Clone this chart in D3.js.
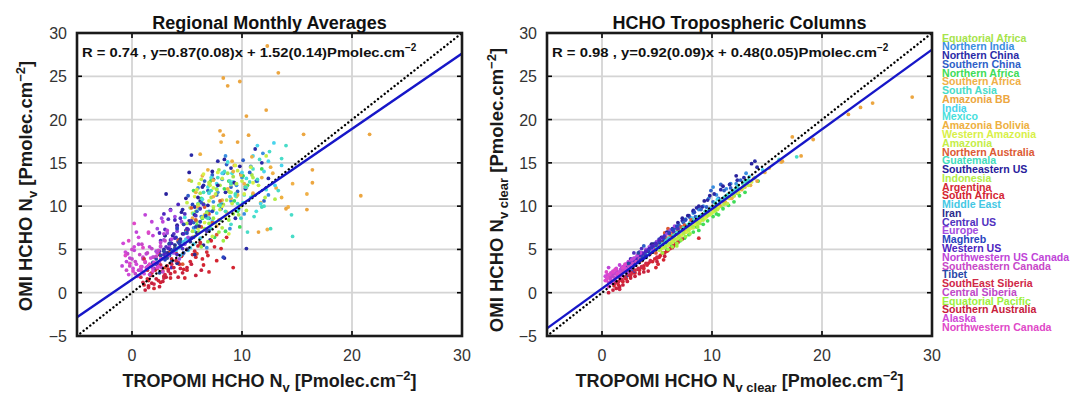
<!DOCTYPE html>
<html><head><meta charset="utf-8">
<script src="https://cdn.jsdelivr.net/npm/d3@7"></script>
<style>body{margin:0;background:#fff}svg{display:block}text{font-family:"Liberation Sans",Arial,sans-serif}</style>
</head><body><svg id="c" width="1073" height="395"></svg>
<script>
const regions = ["Equatorial Africa","Northern India","Northern China","Southern China","Northern Africa","Southern Africa","South Asia","Amazonia BB","India","Mexico","Amazonia Bolivia","Western Amazonia","Amazonia","Northern Australia","Guatemala","Southeastern US","Indonesia","Argentina","South Africa","Middle East","Iran","Central US","Europe","Maghreb","Western US","Northwestern US Canada","Southeastern Canada","Tibet","SouthEast Siberia","Central Siberia","Equatorial Pacific","Southern Australia","Alaska","Northwestern Canada"];
const regionColors = ["#a6e34b","#3a8ee0","#2a2aa6","#2f5fc8","#40dc58","#f0b048","#48dcc8","#eca640","#48d4ec","#48e0dc","#eeb040","#d8f048","#c4ee48","#dc5a34","#44dcbc","#28209c","#b4ec48","#d42834","#d42430","#44c8e4","#2c2c8c","#5030c0","#a44ce0","#2844c0","#4c24c0","#c044d8","#c848c8","#2848a8","#d02848","#c048c8","#9cf040","#c8203c","#d048d8","#e048c8"];
const axisTicksX = [0,10,20,30];
const axisTicksY = [-5,0,5,10,15,20,25,30];

// Regional monthly averages: flat [x,y,...] per region (TROPOMI, OMI)
const monthlyPts = [
[6.2,11.5,7.1,12.8,5.8,9.4,8.3,10.2,7.6,8.1,9.2,13.4,6.7,7.3,8.8,11.7,10.4,12.1,5.4,12.9,7.9,14.2,9.7,9.0,6.5,10.3,7.4,9.6,8.0,12.4,8.7,13.8,9.5,11.1,10.9,13.6,5.9,8.2,7.2,11.0],
[5.1,6.3,6.3,8.8,7.4,10.5,8.2,13.1,9.5,12.4,10.8,14.6,11.9,16.1,6.8,5.2,8.9,7.4,12.4,11.3,4.6,4.4,10.2,9.1,5.6,7.5,7.0,9.4,7.8,11.6,9.0,10.6,10.0,13.3,11.4,12.9,6.0,12.1,8.5,15.8],
[3.6,4.8,4.9,7.2,5.7,9.9,6.5,12.4,7.8,15.2,8.5,11.6,9.9,13.7,11.2,16.6,12.4,13.2,7.1,6.1,9.4,8.6,5.4,15.9,3.0,6.6,10.4,5.1,4.2,5.9,5.2,8.3,6.2,10.6,7.4,13.1,8.1,10.2,9.0,14.4,10.3,12.0,11.8,15.0,6.7,8.8,4.6,9.6],
[4.4,5.9,5.6,8.1,6.9,11.8,7.3,13.6,8.1,9.7,9.0,12.2,10.1,15.3,11.3,12.9,6.3,10.4,8.6,14.8,12.0,10.6,5.1,11.2,4.9,7.0,5.9,9.4,6.6,12.9,7.7,11.3,8.3,13.8,9.6,11.7,10.7,13.9,7.0,8.6],
[5.9,7.8,6.8,9.3,7.5,6.4,8.4,12.0,9.3,10.6,10.1,13.5,11.0,11.3,6.3,10.9,8.0,8.4,9.8,7.6,11.8,14.3,7.2,13.0,6.4,8.6,7.0,11.6,7.9,10.1,8.8,12.9,9.6,9.4,10.5,12.4,5.6,11.8,8.5,7.1],
[5.5,8.6,6.4,13.5,7.4,11.1,8.6,9.3,9.3,14.7,10.2,12.6,11.7,10.4,13.1,12.1,14.2,9.9,15.9,11.4,8.1,17.4,12.3,7.3,6.0,9.8,7.0,12.4,7.9,8.4,9.0,10.9,9.9,13.6,11.0,11.5,12.8,13.8,14.6,12.6,6.8,7.1],
[6.1,9.7,7.2,11.8,8.4,14.0,9.6,10.3,10.7,12.8,11.6,15.4,12.5,16.3,13.3,11.8,14.5,9.0,14.6,6.5,9.0,7.9,11.1,8.8,6.8,8.7,7.8,13.3,8.9,12.9,10.2,11.3,11.0,14.3,12.0,10.0,13.6,15.5,10.5,7.0,14.0,17.0],
[8.3,24.8,8.7,23.9,9.8,24.4,13.3,25.4,12.3,28.5,12.2,21.1,10.4,20.4,8.0,18.7,8.3,18.2,10.6,18.2,15.6,18.3,21.6,18.3,20.8,11.2,15.9,9.6,14.0,9.7,16.4,14.2,16.4,12.7,9.6,17.4,11.5,7.0],
[6.6,10.1,7.7,12.6,8.9,11.1,10.0,13.9,11.4,17.0,12.0,14.0,13.0,12.4,7.3,8.3,9.7,9.6,12.9,17.3,11.7,10.3,7.0,11.5,8.2,13.8,9.2,12.8,10.4,12.2,11.0,15.8,12.4,15.2,13.6,14.7],
[4.8,8.7,5.7,7.1,6.9,12.2,7.7,9.2,8.7,15.1,9.4,11.2,10.4,13.2,11.3,9.4,12.2,11.9,4.4,5.2,6.2,5.8,5.3,9.8,6.4,10.8,7.2,13.3,8.1,10.5,9.1,13.8,10.1,10.4],
[5.2,13.0,6.0,10.0,6.9,14.2,7.7,7.7,8.7,12.0,9.6,11.3,10.9,15.7,11.8,13.3,13.6,11.0,6.2,16.0,9.1,15.2,5.8,11.6,6.6,9.0,7.4,13.0,8.2,10.7,9.2,14.0,10.3,12.3,12.6,14.5],
[5.3,9.8,6.1,12.6,7.0,10.6,7.8,13.9,8.5,8.8,9.4,14.7,10.2,11.4,11.0,12.7,6.6,8.1,8.8,6.8,5.7,11.1,6.5,13.7,7.4,12.1,8.2,10.0,9.0,12.5,9.9,10.0,6.0,7.4],
[5.0,10.4,5.9,11.9,6.7,9.0,7.6,11.4,8.2,13.2,9.1,10.3,10.0,12.9,10.8,14.5,12.2,15.8,7.3,6.5,5.5,9.2,6.3,13.1,7.1,12.4,8.0,9.6,8.9,11.6,9.6,14.1,11.5,12.4],
[3.4,4.7,4.2,6.1,5.0,7.2,5.8,8.4,6.6,9.9,7.3,8.1,8.0,10.6,4.6,3.3,6.2,5.5,7.7,6.7,5.4,9.8,3.9,5.2,4.7,7.9,5.5,6.4,6.3,7.6,7.0,9.1,3.0,2.9,5.9,4.5],
[5.6,9.1,6.5,11.6,7.2,7.4,8.0,10.1,9.0,12.6,9.9,8.6,10.8,11.0,12.6,7.4,11.4,13.1,4.9,6.9,6.0,10.3,6.9,8.6,7.7,12.0,8.5,9.4,9.4,11.4,10.3,12.2,11.8,9.9],
[2.6,4.3,3.4,5.6,4.1,7.8,4.9,10.9,5.7,9.0,6.4,12.2,7.3,14.0,8.4,15.4,9.3,12.7,3.1,11.4,8.4,4.0,5.2,13.9,2.9,5.0,3.7,6.6,4.5,9.3,5.3,8.0,6.0,11.0,6.9,10.1,7.8,12.4,3.5,9.6,9.8,14.6],
[5.5,7.1,6.4,8.7,7.4,9.9,8.2,7.5,9.0,11.6,9.9,10.1,11.0,13.3,12.1,11.0,7.0,12.7,13.0,10.8,5.0,8.0,6.0,10.2,6.8,9.2,7.7,11.9,8.6,10.7,9.5,12.6,10.4,9.5],
[1.1,0.9,1.7,2.0,2.4,1.4,3.2,3.1,3.9,2.4,4.5,4.2,5.3,3.6,6.0,5.4,6.8,4.7,1.9,3.3,4.8,1.7,7.5,5.3,1.4,1.6,2.0,0.5,2.8,2.5,3.5,1.7,4.2,3.5,5.0,2.6,5.7,4.8,6.4,3.9,7.0,2.4,3.0,4.0],
[1.5,1.4,2.1,2.6,2.9,1.9,3.6,3.9,4.3,3.3,5.0,5.0,5.8,4.1,6.5,3.2,7.2,6.0,8.1,5.1,9.2,2.9,2.5,4.4,1.8,2.3,2.6,1.2,3.3,2.7,4.0,4.6,4.7,2.7,5.5,4.4,6.2,5.8,6.9,4.3,8.6,6.4,7.7,3.7],
[3.6,4.6,4.2,5.2,4.7,5.9,5.1,4.9,4.4,4.3,5.6,5.6,3.9,5.5,6.2,6.3,4.0,4.9,4.5,5.5,5.3,5.2,4.9,6.2],
[3.2,4.6,3.9,5.5,4.6,6.8,5.3,5.9,6.1,7.7,4.1,3.4,5.7,4.4,3.0,6.6,3.5,5.0,4.4,6.2,5.0,5.0,5.9,6.9,6.5,5.5],
[2.2,3.3,2.9,4.4,3.5,6.1,4.1,7.6,4.8,9.1,5.4,8.3,6.2,9.7,3.3,8.5,4.6,5.1,6.8,7.1,2.6,6.0,2.5,4.8,3.1,5.3,3.8,6.8,4.4,8.6,5.1,7.3,5.8,8.9,3.0,7.3,6.5,10.2],
[1.9,4.1,2.6,5.3,3.2,6.9,3.8,4.6,4.5,8.2,5.1,6.4,2.3,7.4,3.5,9.5,4.3,3.9,2.2,4.8,2.9,6.1,3.4,5.3,4.1,7.1,4.8,5.6,2.7,8.6,3.9,8.8],
[3.0,3.8,3.7,4.9,4.3,5.7,5.0,6.9,5.8,7.6,6.7,8.9,8.3,4.1,7.3,9.4,4.1,7.4,3.4,4.3,4.0,6.4,4.7,7.9,5.4,6.3,6.2,8.2,7.0,7.2,5.5,10.2],
[2.0,2.8,2.7,3.9,3.3,5.1,3.9,6.3,4.4,5.4,5.0,7.4,2.9,9.1,4.2,10.2,3.6,2.9,5.6,6.4,2.3,3.4,3.0,4.6,3.6,5.7,4.1,4.4,4.7,6.8,5.3,8.0,2.5,6.9,3.9,8.4],
[-0.9,3.1,-0.2,4.0,0.6,5.6,1.3,4.5,1.9,6.6,2.6,5.8,3.2,7.2,0.8,2.7,2.1,3.4,1.2,9.0,2.8,8.2,-0.5,3.6,0.2,4.9,1.0,3.9,1.6,5.3,2.3,4.6,2.9,6.8,3.6,6.2,0.4,7.0,1.8,8.2],
[-0.5,2.6,0.3,3.6,1.0,4.1,1.7,3.1,2.4,4.9,3.0,6.0,0.0,5.0,1.5,6.9,2.8,2.4,-0.2,3.1,0.7,4.4,1.3,2.9,2.0,4.1,2.6,5.4,3.3,4.3,0.9,5.6],
[1.5,3.1,2.2,3.9,2.9,4.8,3.6,3.6,4.3,5.9,2.5,2.3,3.4,5.7,1.9,3.5,2.6,4.3,3.2,4.0,3.9,5.1,4.7,4.6],
[0.8,1.8,1.4,2.6,2.0,1.0,2.6,3.2,3.3,2.5,4.0,3.7,1.1,3.9,2.9,1.7,1.0,1.2,1.7,2.2,2.3,2.8,3.0,2.1,3.6,3.3,4.4,2.8,1.5,0.6],
[0.3,2.2,0.9,3.0,1.6,2.1,2.2,4.2,2.7,2.9,-0.4,4.5,1.8,5.1,0.6,2.6,1.2,3.5,1.9,2.8,2.5,3.6,0.0,3.9,1.4,4.6],
[5.7,6.5,6.6,7.4,7.4,8.6,8.3,6.0,9.2,9.1,6.9,5.9,6.1,7.0,7.0,8.0,7.9,7.0,8.8,8.4,6.3,5.3],
[1.2,0.3,1.8,1.1,2.5,0.7,3.1,1.8,3.8,2.9,4.6,2.3,5.4,3.3,6.3,2.6,1.5,0.8,2.2,1.6,2.8,1.3,3.5,2.2,4.2,1.8,5.0,2.9,5.8,2.0],
[-0.8,5.7,-0.3,2.1,0.4,3.3,1.1,2.2,1.7,4.0,0.6,6.4,2.4,3.0,-0.6,4.7,0.1,2.8,0.8,2.6,1.4,3.0,2.0,3.5,0.2,5.3],
[-0.2,3.4,0.5,1.9,1.2,3.6,1.9,2.5,2.6,3.9,-0.6,4.3,1.5,7.0,0.2,8.0,0.1,2.5,0.8,3.0,1.6,3.3,2.3,2.9,-0.3,6.0,1.0,5.2]
];

// Tropospheric columns (clear): flat [x,y,...] per region
const clearPts = [
[5.8,5.4,6.4,5.9,7.1,6.6,7.8,7.2,8.4,7.7,9.1,8.6,9.8,9.1,10.5,9.8,11.2,10.4,6.9,6.1,8.9,8.0,12.3,11.5,6.0,5.7,7.4,6.9,8.1,7.6,9.4,8.7,10.1,9.5,10.8,10.0],
[4.2,4.9,5.3,6.0,6.1,7.1,7.0,7.6,8.3,9.2,9.2,10.0,10.4,11.3,11.3,12.0,12.2,12.6,13.1,13.8,9.7,10.9,10.1,12.2,4.7,5.4,5.7,6.5,6.6,7.4,7.6,8.5,8.8,9.6,11.7,12.6],
[3.4,3.9,4.5,5.6,5.6,6.4,6.7,7.6,7.9,8.9,9.1,9.9,10.2,11.4,11.6,12.5,12.9,13.3,14.1,14.5,13.9,15.2,8.6,9.8,4.0,4.8,5.1,5.8,6.2,7.2,7.3,8.3,8.3,9.5,9.6,10.7,10.8,11.9,12.3,13.0],
[4.8,5.7,5.7,6.3,6.5,7.3,7.4,8.1,8.5,8.8,9.5,9.9,10.6,10.9,11.7,12.1,12.6,13.0,9.9,11.8,10.8,12.5,3.8,5.4,5.2,6.2,6.1,6.9,7.0,7.8,8.0,8.7,9.0,9.6,10.1,10.5,11.1,11.8],
[5.9,5.0,6.7,5.7,7.5,6.3,8.3,7.0,9.2,7.9,10.1,8.8,11.0,9.7,12.0,10.5,13.0,11.6,14.2,12.9,8.8,7.2,10.6,9.0,6.3,5.4,7.1,6.0,7.9,6.7,8.6,7.6,9.6,8.3,10.4,9.1,11.5,10.1,12.5,11.2],
[6.0,5.5,7.0,6.6,8.1,7.5,9.0,8.4,10.1,9.5,11.2,10.5,12.4,11.6,13.5,12.4,14.8,13.9,16.3,15.1,7.4,7.2,9.6,9.1,6.5,6.1,7.6,7.0,8.5,8.0,9.5,8.8,10.6,10.0,11.8,10.9,13.0,12.2],
[6.3,6.5,7.4,7.5,8.6,8.4,9.7,9.5,10.8,10.6,11.9,11.8,12.8,12.6,13.9,13.3,16.1,15.4,17.7,15.7,8.0,8.1,10.3,10.4,6.8,7.0,7.9,7.9,9.1,9.0,10.2,9.8,11.4,11.3,12.3,12.3,13.3,13.0],
[17.3,18.0,19.2,17.7,18.1,15.8,22.4,20.6,23.5,21.4,24.6,21.9,28.2,22.6,16.4,15.2,12.0,11.2,14.1,12.9,10.2,9.9,8.3,8.2],
[6.5,6.8,7.6,7.7,8.8,8.8,9.9,9.8,11.1,11.0,12.3,12.1,13.4,13.4,14.6,14.2,8.2,8.6,10.5,10.8,7.1,7.3,8.3,8.2,9.4,9.4,10.7,10.5,11.7,11.6,13.0,12.9],
[4.3,4.7,5.0,5.3,5.8,6.0,6.8,6.9,7.6,7.8,8.6,8.5,9.4,9.4,10.3,10.3,11.2,11.0,12.1,11.9,4.7,5.1,5.4,5.6,6.3,6.5,7.2,7.3,8.1,8.1,9.0,8.9],
[5.4,5.1,6.5,6.3,7.5,7.1,8.6,8.1,9.7,9.1,10.7,10.1,11.6,10.9,12.7,11.9,13.8,13.2,15.2,14.4,6.0,5.7,7.0,6.7,8.0,7.6,9.1,8.6,10.2,9.6,11.1,10.4],
[5.6,5.2,6.3,5.8,7.2,6.6,8.1,7.5,8.9,8.3,9.8,9.0,10.6,9.8,11.5,10.9,12.4,11.6,13.6,12.8,6.0,5.5,6.8,6.2,7.7,7.0,8.5,7.9,9.4,8.6,10.2,9.4],
[5.2,4.9,6.0,5.6,6.9,6.3,7.9,7.2,8.7,7.9,9.6,8.9,10.5,9.6,11.4,10.3,12.8,12.1,13.3,12.4,5.6,5.2,6.5,5.9,7.4,6.8,8.3,7.5,9.2,8.4,10.0,9.2],
[3.6,3.7,4.4,4.5,5.2,5.4,5.9,6.3,6.4,7.0,6.9,7.3,7.5,7.8,8.1,8.4,4.9,4.6,6.6,6.6,4.0,4.2,4.8,5.0,5.5,5.8,6.2,6.6,7.2,7.6,5.7,6.9,6.0,7.4],
[5.4,5.6,6.1,6.3,7.0,7.0,7.9,7.9,8.7,8.6,9.5,9.3,10.4,10.2,11.3,11.1,12.4,12.0,13.1,12.9,5.7,6.0,6.5,6.6,7.4,7.5,8.3,8.3,9.1,9.0],
[2.5,3.3,3.2,4.1,4.1,4.9,5.0,5.9,5.9,7.0,6.9,8.1,7.8,8.9,8.8,10.0,9.8,11.2,11.0,12.3,12.2,13.5,13.6,14.9,2.8,3.8,3.6,4.5,4.5,5.5,5.4,6.4,6.4,7.4,7.3,8.6,8.3,9.4,9.3,10.6],
[5.3,5.0,6.2,5.7,7.0,6.5,7.8,7.4,8.7,8.1,9.6,9.0,10.3,9.5,11.1,10.2,12.0,11.2,12.9,12.3,5.7,5.3,6.6,6.2,7.4,6.9,8.2,7.7,9.1,8.6],
[1.1,0.8,1.8,1.4,2.5,2.0,3.3,2.7,4.1,3.2,4.8,3.9,5.5,4.6,6.2,5.1,6.9,5.8,5.1,3.3,8.8,6.3,3.8,2.8,1.4,1.2,2.1,1.7,2.8,2.3,3.6,2.9,4.4,3.6,5.2,4.1,5.9,4.8,6.5,5.4],
[1.5,0.9,2.2,1.6,3.0,2.3,3.8,3.1,4.6,3.6,5.3,4.3,6.0,4.9,6.7,5.6,7.3,6.2,4.9,2.9,5.6,3.8,1.9,1.3,2.6,2.0,3.4,2.6,4.2,3.4,5.0,4.0,5.7,4.6,6.4,5.2],
[3.5,3.9,4.0,4.3,4.5,4.8,5.0,5.1,5.5,5.6,6.0,6.2,4.8,5.4,5.8,5.8,3.8,4.0,4.3,4.6,5.3,5.5],
[3.0,3.5,3.6,4.1,4.2,4.8,4.9,5.5,5.5,6.1,6.1,6.9,3.4,4.4,4.6,5.6,3.3,3.8,3.9,4.4,4.5,5.2,5.2,5.8],
[2.1,2.9,2.7,3.5,3.3,4.2,4.0,4.9,4.7,5.4,5.4,6.2,6.1,6.9,6.9,7.4,3.6,5.1,2.9,4.6,2.4,3.3,3.0,3.9,3.7,4.6,4.4,5.1,5.0,5.8,5.7,6.6,6.5,7.1],
[1.8,2.9,2.4,3.5,3.0,4.0,3.7,4.6,4.3,5.3,5.0,5.9,5.9,6.8,6.6,7.7,2.8,3.9,4.6,5.0,2.1,3.2,2.7,3.8,3.4,4.3,4.0,5.0,4.9,5.6,5.5,6.3,6.2,7.2],
[2.9,2.5,3.3,3.9,3.9,4.5,4.5,5.2,5.2,5.9,6.1,6.9,6.8,7.7,7.6,8.4,8.4,9.3,3.1,3.6,3.6,4.2,4.2,4.9,4.9,5.6,5.6,6.3,6.4,7.3],
[1.9,2.5,2.5,3.2,3.1,3.8,3.7,4.5,4.3,5.1,4.9,5.7,5.5,6.4,3.4,4.7,2.6,3.9,2.2,2.9,2.8,3.5,3.4,4.2,4.0,4.8,4.6,5.4,5.2,6.1],
[0.4,1.5,0.9,2.0,1.4,2.4,1.9,3.0,2.4,3.6,2.9,4.0,3.5,4.6,0.6,2.9,1.6,3.2,0.7,1.8,1.2,2.2,1.7,2.7,2.2,3.3,2.7,3.8,3.2,4.3],
[0.6,1.2,1.1,1.8,1.7,2.1,2.2,2.8,2.8,3.4,3.4,3.9,1.3,2.6,2.5,3.1,0.8,1.5,1.4,2.0,1.9,2.5,2.5,3.1,3.1,3.6],
[2.2,1.9,2.6,2.6,3.0,3.2,3.5,3.8,4.0,4.1,2.4,3.4,3.3,4.6,2.4,2.3,2.8,2.9,3.3,3.5,3.8,4.0],
[1.2,1.1,1.8,1.5,2.4,2.1,3.0,2.6,3.6,3.0,4.4,3.7,5.0,4.1,1.6,0.4,1.5,1.3,2.1,1.8,2.7,2.3,3.3,2.8,4.0,3.4],
[0.7,1.7,1.2,1.4,1.7,2.5,2.3,2.3,2.7,2.9,1.0,2.2,0.9,1.9,1.5,2.0,2.0,2.7,2.5,2.6],
[5.5,4.6,6.4,5.3,7.2,6.1,8.0,6.8,6.8,5.4,8.7,7.6,6.0,5.0,6.8,5.7,7.6,6.5],
[0.6,0.0,1.3,0.5,1.9,0.9,2.6,1.7,3.4,2.2,4.2,2.5,5.0,3.6,5.7,4.2,1.0,0.3,1.6,0.7,2.3,1.3,3.0,1.9,3.8,2.4],
[0.3,1.9,0.8,2.3,1.3,2.8,1.8,2.0,2.2,2.7,0.9,1.1,0.5,2.1,1.0,2.5,1.6,2.4,2.0,3.0],
[0.3,1.4,0.7,2.1,1.2,2.7,1.6,1.8,2.1,3.3,0.4,2.4,0.6,0.7,0.5,1.7,1.0,2.4,1.4,2.2,1.9,2.9]
];

const fitLeft = {slope:0.87, intercept:1.52};
const fitRight = {slope:0.92, intercept:0.48};
const titles = ["Regional Monthly Averages","HCHO Tropospheric Columns"];
const statTexts = ["R = 0.74 , y=0.87(0.08)x + 1.52(0.14)Pmolec.cm","R = 0.98 , y=0.92(0.09)x + 0.48(0.05)Pmolec.cm"];

const svg = d3.select("#c");
const FONT = '"Liberation Sans",Arial,sans-serif';

function panel(opts){
  const x = d3.scaleLinear().domain([-5,30]).range([opts.x0, opts.x1]);
  const y = d3.scaleLinear().domain([-5,30]).range([336,33]);
  const g = svg.append("g");
  const cid = "clip"+opts.id;
  svg.append("clipPath").attr("id",cid).append("rect")
    .attr("x",opts.x0).attr("y",33).attr("width",opts.x1-opts.x0).attr("height",303);
  // grid
  g.append("g").selectAll("line").data(axisTicksX.filter(d=>d<30)).join("line")
    .attr("x1",d=>x(d)).attr("x2",d=>x(d)).attr("y1",33).attr("y2",336)
    .attr("stroke","#d4d4d4").attr("stroke-width",1.8);
  g.append("g").selectAll("line").data(axisTicksY.filter(d=>d>-5&&d<30)).join("line")
    .attr("y1",d=>y(d)).attr("y2",d=>y(d)).attr("x1",opts.x0).attr("x2",opts.x1)
    .attr("stroke","#d4d4d4").attr("stroke-width",1.8);
  // points
  const pts = [];
  opts.data.forEach((arr,ri)=>{ for(let i=0;i<arr.length;i+=2) pts.push({x:arr[i],y:arr[i+1],c:regionColors[ri]}); });
  g.append("g").attr("clip-path",`url(#${cid})`).selectAll("circle").data(pts).join("circle")
    .attr("cx",d=>x(d.x)).attr("cy",d=>y(d.y)).attr("r",1.9).attr("fill",d=>d.c);
  // 1:1 dotted and fit line
  const lg = g.append("g").attr("clip-path",`url(#${cid})`);
  lg.append("line").attr("x1",x(-5)).attr("y1",y(-5)).attr("x2",x(30)).attr("y2",y(30))
    .attr("stroke","#000").attr("stroke-width",2.4).attr("stroke-dasharray","0.01 4.2").attr("stroke-linecap","round");
  lg.append("line").attr("x1",x(-5)).attr("y1",y(opts.fit.slope*-5+opts.fit.intercept))
    .attr("x2",x(30)).attr("y2",y(opts.fit.slope*30+opts.fit.intercept))
    .attr("stroke","#1616c8").attr("stroke-width",2.4);
  // ticks inward
  const tk = g.append("g").attr("stroke","#000").attr("stroke-width",1.6);
  axisTicksX.filter(d=>d<30).forEach(d=>{
    tk.append("line").attr("x1",x(d)).attr("x2",x(d)).attr("y1",336).attr("y2",331);
    tk.append("line").attr("x1",x(d)).attr("x2",x(d)).attr("y1",33).attr("y2",38);
  });
  axisTicksY.filter(d=>d>-5&&d<30).forEach(d=>{
    tk.append("line").attr("y1",y(d)).attr("y2",y(d)).attr("x1",opts.x0).attr("x2",opts.x0+5);
    tk.append("line").attr("y1",y(d)).attr("y2",y(d)).attr("x1",opts.x1).attr("x2",opts.x1-5);
  });
  g.append("rect").attr("x",opts.x0).attr("y",33).attr("width",opts.x1-opts.x0).attr("height",303)
    .attr("fill","none").attr("stroke","#1a1a1a").attr("stroke-width",2.6);
  // tick labels
  g.append("g").selectAll("text").data(axisTicksX).join("text")
    .attr("x",d=>x(d)).attr("y",361).attr("text-anchor","middle")
    .attr("font-size",16).attr("fill","#333").style("font-family",FONT).text(d=>d);
  g.append("g").selectAll("text").data(axisTicksY).join("text")
    .attr("x",opts.x0-10).attr("y",d=>y(d)+6).attr("text-anchor","end")
    .attr("font-size",16).attr("fill","#333").style("font-family",FONT).text(d=>d<0?"\u2212"+(-d):d);
  const cx = (opts.x0+opts.x1)/2;
  // title
  g.append("text").attr("x",cx).attr("y",29).attr("text-anchor","middle").attr("font-size",18)
    .attr("font-weight","bold").attr("fill","#111").style("font-family",FONT).text(opts.title);
  // stats
  const st = g.append("text").attr("x",opts.x0+5).attr("y",57).attr("font-size",12)
    .attr("font-weight","bold").attr("fill","#111").style("font-family",FONT);
  st.append("tspan").attr("textLength",opts.statLen).attr("lengthAdjust","spacingAndGlyphs").text(opts.stat);
  st.append("tspan").attr("dy",-6).attr("font-size",10).text("\u22122");
  // x label
  const xl = g.append("text").attr("x",cx).attr("y",387).attr("text-anchor","middle").attr("font-size",18)
    .attr("font-weight","bold").attr("fill","#1a1a1a").style("font-family",FONT);
  xl.append("tspan").text("TROPOMI HCHO N");
  xl.append("tspan").attr("dy",5).attr("font-size",13).text(opts.sub);
  xl.append("tspan").attr("dy",-5).text(" [Pmolec.cm");
  xl.append("tspan").attr("dy",-7).attr("font-size",13).text("\u22122");
  xl.append("tspan").attr("dy",7).text("]");
  // y label
  const yl = g.append("text").attr("transform",`translate(${opts.yl},${opts.ylc}) rotate(-90)`).attr("text-anchor","middle")
    .attr("font-size",18.5).attr("font-weight","bold").attr("fill","#1a1a1a").style("font-family",FONT);
  yl.append("tspan").text("OMI HCHO N");
  yl.append("tspan").attr("dy",5).attr("font-size",13).text(opts.sub);
  yl.append("tspan").attr("dy",-5).text(" [Pmolec.cm");
  yl.append("tspan").attr("dy",-7).attr("font-size",13).text("\u22122");
  yl.append("tspan").attr("dy",7).text("]");
}

panel({id:"L",x0:77,x1:462,data:monthlyPts,fit:fitLeft,title:titles[0],stat:statTexts[0],statLen:323,sub:"v",yl:32,ylc:186});
panel({id:"R",x0:547,x1:932,data:clearPts,fit:fitRight,title:titles[1],stat:statTexts[1],statLen:325,sub:"v clear",yl:503,ylc:190});

// legend
svg.append("g").selectAll("text").data(regions).join("text")
  .attr("x",942).attr("y",(d,i)=>41.5+i*8.77)
  .attr("font-size",10.6).attr("font-weight","bold").style("font-family",FONT)
  .attr("fill",(d,i)=>regionColors[i]).text(d=>d);
</script></body></html>
